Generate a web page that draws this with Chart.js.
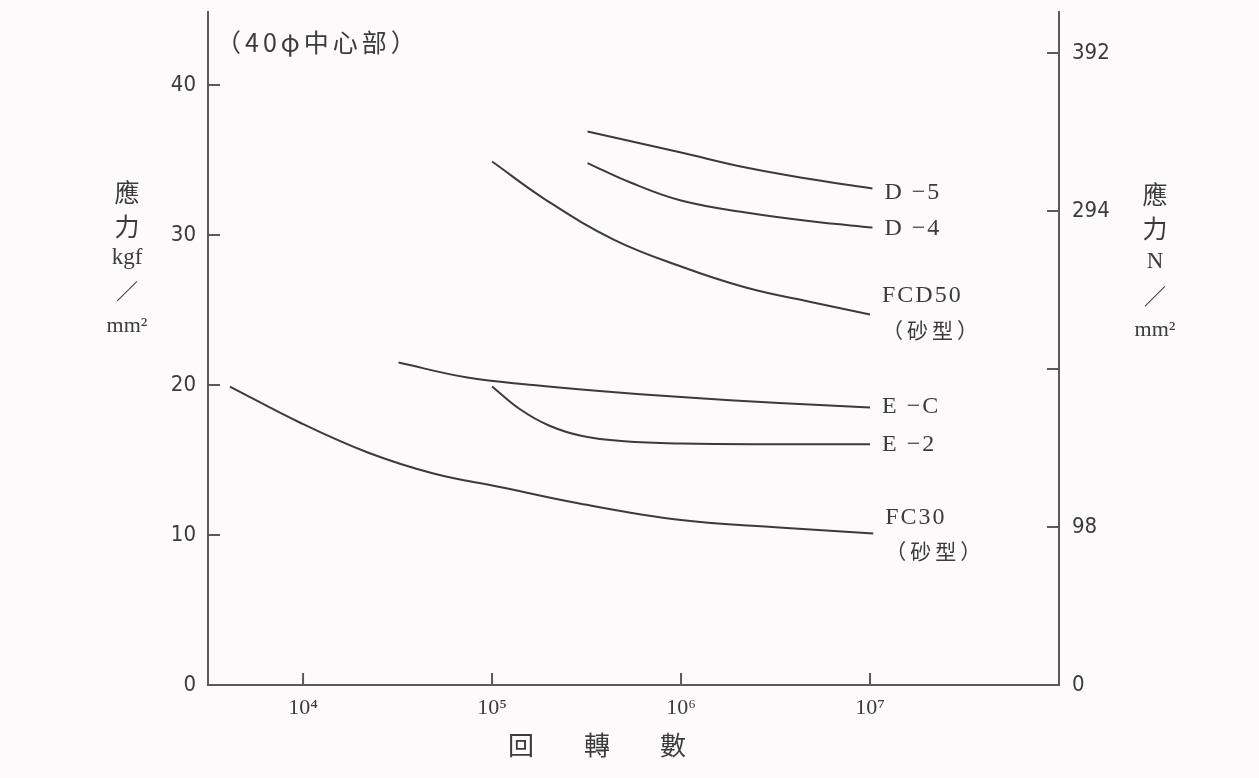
<!DOCTYPE html>
<html>
<head>
<meta charset="utf-8">
<title>S-N curves</title>
<script src="https://cdn.jsdelivr.net/npm/chart.js@4.4.1/dist/chart.umd.min.js"></script>
<style>
    html, body { margin: 0; padding: 0; background: #fcfafa; }
    #wrap { width: 1259px; height: 778px; }
</style>
</head>
<body>
<div id="wrap"><canvas id="snChart" width="1259" height="778"></canvas></div>
<script>
// tick values and labels
const stressTicks = [0, 10, 20, 30, 40];
const newtonTicks = [0, 98, 196, 294, 392];
const newtonLabels = ['0', '98', '', '294', '392'];
const cycleTicks = [1e4, 1e5, 1e6, 1e7];
const cycleLabels = ['10⁴', '10⁵', '10⁶', '10⁷'];

// curves (cycles, stress kgf/mm²)
const seriesNames = ['D −5', 'D −4', 'FCD50', 'E −C', 'E −2', 'FC30'];
const seriesNotes = ['', '', '（砂型）', '', '', '（砂型）'];

const d5Cycles = [3.2e5, 1.0e6, 2.2e6, 5.0e6, 1.03e7];
const d5Stress = [36.9, 35.5, 34.5, 33.7, 33.1];

const d4Cycles = [3.2e5, 5.4e5, 1.0e6, 2.2e6, 5.0e6, 1.03e7];
const d4Stress = [34.8, 33.5, 32.3, 31.5, 30.9, 30.5];

const fcd50Cycles = [1.0e5, 1.95e5, 4.4e5, 1.0e6, 2.2e6, 5.0e6, 1.0e7];
const fcd50Stress = [34.9, 32.3, 29.7, 27.9, 26.5, 25.5, 24.7];

const ecCycles = [3.2e4, 7.4e4, 1.65e5, 3.7e5, 1.0e6, 3.3e6, 1.0e7];
const ecStress = [21.5, 20.5, 20.0, 19.6, 19.2, 18.8, 18.5];

const e2Cycles = [1.0e5, 1.4e5, 2.0e5, 3.0e5, 5.0e5, 1.0e6, 3.3e6, 1.0e7];
const e2Stress = [19.9, 18.4, 17.3, 16.6, 16.25, 16.1, 16.05, 16.05];

const fc30Cycles = [4.1e3, 9.6e3, 2.2e4, 4.9e4, 1.1e5, 2.9e5, 1.0e6, 3.3e6, 1.04e7];
const fc30Stress = [19.9, 17.5, 15.5, 14.1, 13.2, 12.1, 11.0, 10.5, 10.1];

const allCycles = [d5Cycles, d4Cycles, fcd50Cycles, ecCycles, e2Cycles, fc30Cycles];
const allStress = [d5Stress, d4Stress, fcd50Stress, ecStress, e2Stress, fc30Stress];

// label placement next to each curve end (style, not data)
const labelShift = [4, 1, -19, -1, 0, -16];

const inkColor = '#3b3b3b';
const axisColor = '#5a5a5a';
const numFont = '"DejaVu Sans Condensed", "DejaVu Sans", sans-serif';
const serifFont = '"Liberation Serif", "DejaVu Serif", serif';
const cjkFont = '"Noto Sans CJK TC", "Noto Sans CJK JP", sans-serif';

function toPoints(xs, ys) {
    return xs.map((x, i) => ({ x: x, y: ys[i] }));
}

const datasets = seriesNames.map((name, i) => ({
    label: name,
    data: toPoints(allCycles[i], allStress[i]),
    borderColor: inkColor,
    borderWidth: 2,
    pointRadius: 0,
    showLine: true,
    fill: false,
    tension: 0.4,
    yAxisID: 'y'
}));

// short ticks pointing into the plot area
const inwardTicks = {
    id: 'inwardTicks',
    afterDraw(chart) {
        const { ctx, chartArea, scales } = chart;
        ctx.save();
        ctx.strokeStyle = axisColor;
        ctx.lineWidth = 2;
        ctx.beginPath();
        scales.y.ticks.forEach(t => {
            if (t.value === 0) return;
            const py = scales.y.getPixelForValue(t.value);
            ctx.moveTo(chartArea.left, py);
            ctx.lineTo(chartArea.left + 12, py);
        });
        scales.y2.ticks.forEach(t => {
            if (t.value === 0) return;
            const py = scales.y2.getPixelForValue(t.value);
            ctx.moveTo(chartArea.right - 12, py);
            ctx.lineTo(chartArea.right, py);
        });
        scales.x.ticks.forEach(t => {
            const px = scales.x.getPixelForValue(t.value);
            ctx.moveTo(px, chartArea.bottom);
            ctx.lineTo(px, chartArea.bottom - 12);
        });
        ctx.stroke();
        ctx.restore();
    }
};

// names written at the right end of each curve
const curveLabels = {
    id: 'curveLabels',
    afterDatasetsDraw(chart) {
        const ctx = chart.ctx;
        ctx.save();
        ctx.fillStyle = inkColor;
        ctx.textAlign = 'left';
        ctx.textBaseline = 'middle';
        chart.data.datasets.forEach((ds, i) => {
            const pts = chart.getDatasetMeta(i).data;
            const last = pts[pts.length - 1];
            const ly = last.y + labelShift[i];
            ctx.font = '24px ' + serifFont;
            ctx.letterSpacing = '2px';
            ctx.fillText(ds.label, last.x + 12, ly);
            if (seriesNotes[i]) {
                ctx.font = '21px ' + cjkFont;
                ctx.letterSpacing = '4px';
                ctx.fillText(seriesNotes[i], last.x + 12, ly + 34);
            }
        });
        ctx.restore();
    }
};

// stacked axis titles and the small heading
const axisTitles = {
    id: 'axisTitles',
    afterDraw(chart) {
        const { ctx, chartArea } = chart;
        ctx.save();
        ctx.fillStyle = inkColor;
        ctx.textAlign = 'center';
        ctx.textBaseline = 'middle';

        function stack(x, parts) {
            parts.forEach(p => {
                ctx.font = p[2];
                ctx.fillText(p[0], x, p[1]);
            });
        }
        stack(chartArea.left - 81, [
            ['應', 192, '25px ' + cjkFont],
            ['力', 226, '25px ' + cjkFont],
            ['kgf', 258, '23px ' + serifFont],
            ['／', 291, '22px ' + cjkFont],
            ['mm²', 326, '22px ' + serifFont]
        ]);
        stack(chartArea.right + 96, [
            ['應', 194, '25px ' + cjkFont],
            ['力', 228, '25px ' + cjkFont],
            ['N', 262, '23px ' + serifFont],
            ['／', 296, '22px ' + cjkFont],
            ['mm²', 330, '22px ' + serifFont]
        ]);

        // heading inside the plot
        ctx.textAlign = 'left';
        ctx.font = '25px ' + cjkFont;
        ctx.letterSpacing = '4px';
        ctx.fillText('（40φ中心部）', chartArea.left + 8, 42);
        ctx.letterSpacing = '0px';

        // x axis title, spaced characters
        ctx.textAlign = 'center';
        ctx.font = '26px ' + cjkFont;
        ['回', '轉', '數'].forEach((c, i) => {
            ctx.fillText(c, chartArea.left + 313 + i * 76, 745);
        });
        ctx.restore();
    }
};

function noEdgePadding(scale) {
    scale.paddingTop = 0;
    scale.paddingBottom = 0;
}

const ctx = document.getElementById('snChart').getContext('2d');
new Chart(ctx, {
    type: 'scatter',
    data: { datasets: datasets },
    options: {
        responsive: false,
        animation: false,
        layout: { padding: { top: 12, left: 0, right: 0, bottom: 0 } },
        plugins: {
            legend: { display: false },
            title: { display: false },
            tooltip: { enabled: false }
        },
        scales: {
            x: {
                type: 'logarithmic',
                min: 3140,
                max: 1.0e8,
                afterBuildTicks: scale => { scale.ticks = cycleTicks.map(v => ({ value: v })); },
                afterFit: scale => { scale.height = 93; scale.paddingLeft = 0; scale.paddingRight = 0; },
                grid: { drawOnChartArea: false, drawTicks: false },
                border: { display: true, color: axisColor, width: 2 },
                ticks: {
                    padding: 10,
                    color: inkColor,
                    font: { family: serifFont, size: 22 },
                    autoSkip: false,
                    maxRotation: 0,
                    callback: (value, index) => cycleLabels[index]
                }
            },
            y: {
                type: 'linear',
                position: 'left',
                min: 0,
                max: 44.87,
                afterBuildTicks: scale => { scale.ticks = stressTicks.map(v => ({ value: v })); },
                afterFit: scale => { scale.width = 208; noEdgePadding(scale); },
                grid: { drawOnChartArea: false, drawTicks: false },
                border: { display: true, color: axisColor, width: 2 },
                ticks: {
                    padding: 12,
                    color: inkColor,
                    font: { family: numFont, size: 22 },
                    callback: value => String(value)
                }
            },
            y2: {
                type: 'linear',
                position: 'right',
                min: 0,
                max: 417.4,
                afterBuildTicks: scale => { scale.ticks = newtonTicks.map(v => ({ value: v })); },
                afterFit: scale => { scale.width = 200; noEdgePadding(scale); },
                grid: { drawOnChartArea: false, drawTicks: false },
                border: { display: true, color: axisColor, width: 2 },
                ticks: {
                    padding: 13,
                    color: inkColor,
                    font: { family: numFont, size: 22 },
                    callback: (value, index) => newtonLabels[index]
                }
            }
        }
    },
    plugins: [inwardTicks, curveLabels, axisTitles]
});
</script>
</body>
</html>
